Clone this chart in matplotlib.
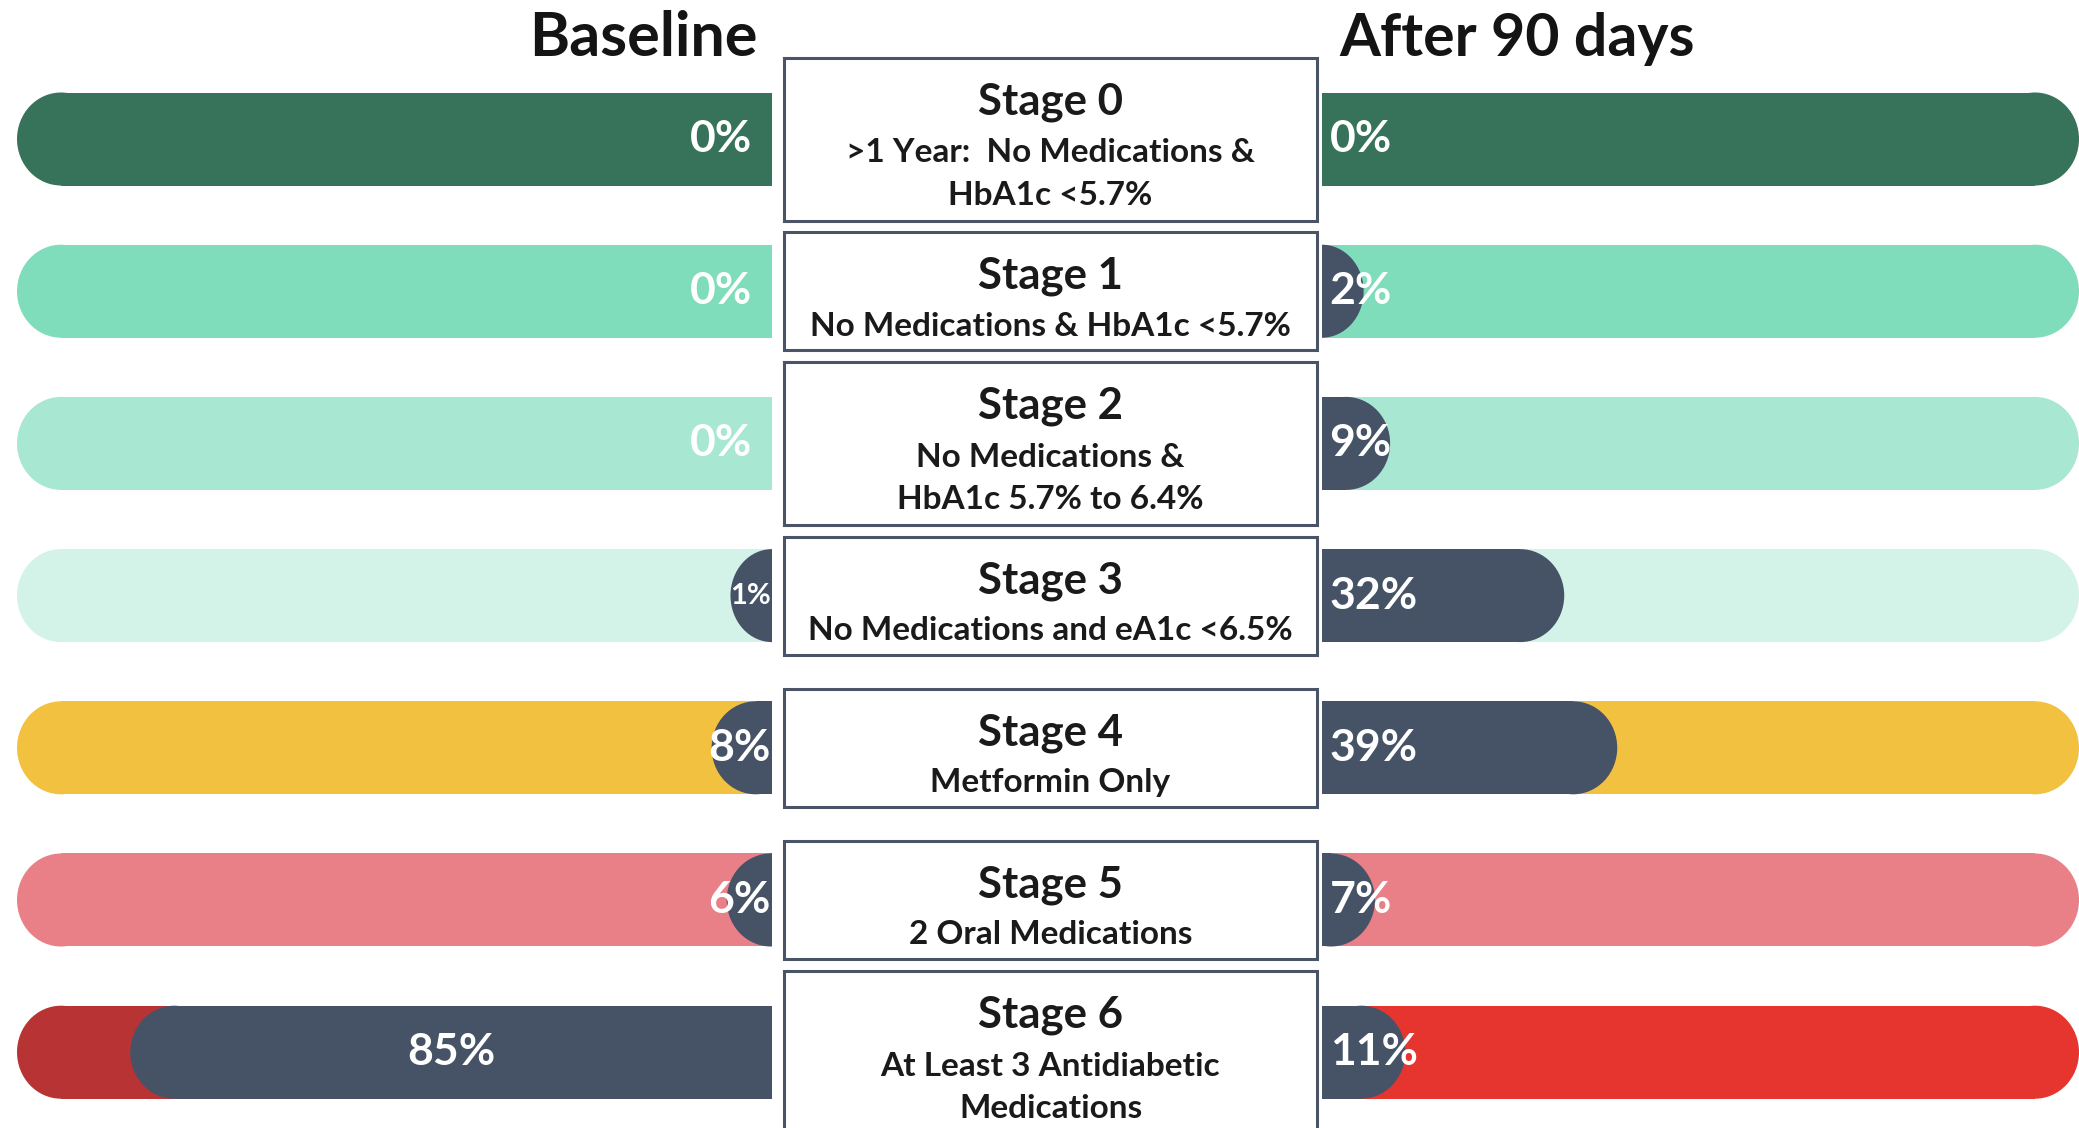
import numpy as np
import matplotlib.pyplot as plt
from matplotlib.patches import Ellipse, Rectangle

plt.rcParams['font.family'] = ['Lato', 'DejaVu Sans']

# data
stage_titles = ['Stage 0', 'Stage 1', 'Stage 2', 'Stage 3', 'Stage 4', 'Stage 5', 'Stage 6']
stage_notes = ['>1 Year:  No Medications &\nHbA1c <5.7%',
               'No Medications & HbA1c <5.7%',
               'No Medications &\nHbA1c 5.7% to 6.4%',
               'No Medications and eA1c <6.5%',
               'Metformin Only',
               '2 Oral Medications',
               'At Least 3 Antidiabetic\nMedications']
baseline = [0, 0, 0, 1, 8, 6, 85]
after_90 = [0, 2, 9, 32, 39, 7, 11]

colors_baseline = ['#37725B', '#80DDBB', '#A8E8D3', '#D3F3E8', '#F2C140', '#E97F87', '#B83434']
colors_after = ['#37725B', '#80DDBB', '#A8E8D3', '#D3F3E8', '#F2C140', '#E97F87', '#E5352E']
DARK = '#465366'
BOX_EDGE = '#4B5366'

# layout (pixels)
W, H = 2079, 1128
ROW0, ROW_STEP = 139, 152.2
BAR_PX = 93
CAP_PX = 44
MIN_PCT = 5.5

ylim = ((H - ROW0) / ROW_STEP, -ROW0 / ROW_STEP)
rows = np.arange(len(stage_titles))
bar_h = BAR_PX / ROW_STEP

fig = plt.figure(figsize=(W / 100, H / 100), dpi=100)


def pill(ax, length, y, color, ax_px):
    # flat bar from the inner edge with a rounded outer end
    rx = min(CAP_PX / (ax_px / 100), length)
    ax.barh(y, max(length - rx, 0), left=0, height=bar_h, color=color, lw=0)
    ax.add_patch(Ellipse((length - rx, y), 2 * rx, bar_h, color=color, lw=0))


def side(x0, width, values, colors, inverted):
    ax = fig.add_axes([x0 / W, 0, width / W, 1])
    ax.set_xlim((100, 0) if inverted else (0, 100))
    ax.set_ylim(ylim)
    ax.axis('off')
    for y, v, c in zip(rows, values, colors):
        pill(ax, 100, y, c, width)
        if v > 0:
            pill(ax, max(v, MIN_PCT), y, DARK, width)
        fs = 21 if 0 < v < 2 else 32
        kw = dict(va='center', color='white', fontsize=fs, fontweight='bold')
        if inverted:
            if v >= 50:
                ax.text(v / 2, y, f'{v}%', ha='center', **kw)
            elif v > 0:
                ax.text(0.2, y, f'{v}%', ha='right', **kw)
            else:
                ax.text(2.6, y, f'{v}%', ha='right', **kw)
        else:
            ax.text(1.0, y, f'{v}%', ha='left', **kw)
    return ax


ax_l = side(17, 755, baseline, colors_baseline, True)
ax_r = side(1322, 757, after_90, colors_after, False)

# centre boxes
ax_c = fig.add_axes([784 / W, 0, 533 / W, 1], zorder=5)
ax_c.set_xlim(0, 1)
ax_c.set_ylim(ylim)
ax_c.axis('off')
for y, title, note in zip(rows, stage_titles, stage_notes):
    n_desc = note.count('\n') + 1
    bh = (118 + 45 * (n_desc - 1)) / ROW_STEP
    ax_c.add_patch(Rectangle((0, y - bh / 2), 1, bh, facecolor='white',
                             edgecolor=BOX_EDGE, lw=2.2, clip_on=False))
    ty = y - (15 + 22 * (n_desc - 1)) / ROW_STEP
    ax_c.text(0.5, ty, title, ha='center', va='center', fontsize=31.5,
              fontweight='bold', color='#1a1a1a')
    dy = ty + (50 + 22 * (n_desc - 1)) / ROW_STEP
    ax_c.text(0.5, dy, note, ha='center', va='center', fontsize=24,
              fontweight='bold', color='#1a1a1a', linespacing=1.55)

fig.text(757 / W, 1 - 56 / H, 'Baseline', ha='right', va='baseline',
         fontsize=44, fontweight='bold', color='#141414')
fig.text(1339 / W, 1 - 56 / H, 'After 90 days', ha='left', va='baseline',
         fontsize=42.5, fontweight='bold', color='#141414')

fig.savefig('out.png', dpi=100, facecolor='white')
